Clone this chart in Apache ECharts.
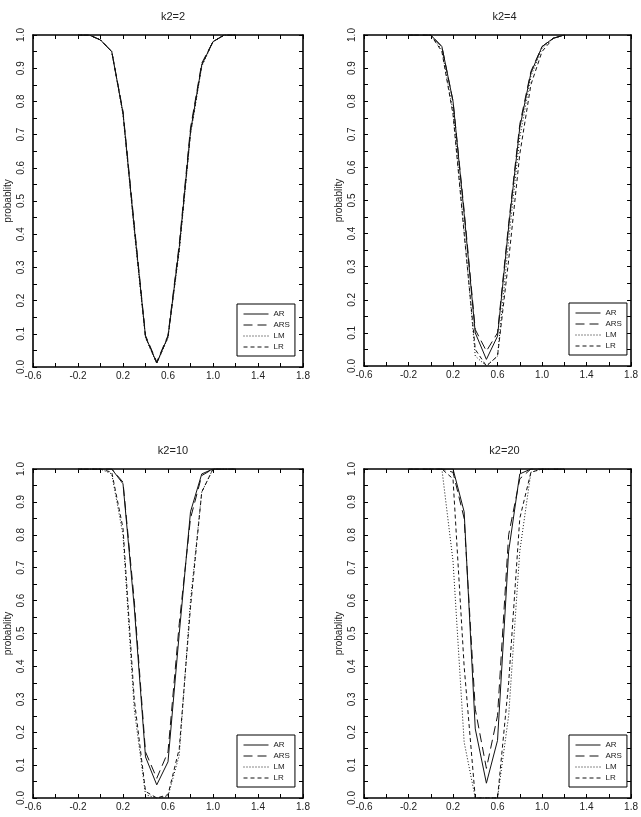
<!DOCTYPE html>
<html>
<head>
<meta charset="utf-8">
<script src="https://cdn.jsdelivr.net/npm/echarts@6/dist/echarts.min.js"></script>
<style>
	html, body { margin: 0; padding: 0; background: #fff; }
	#chart { width: 641px; height: 817px; }
</style>
</head>
<body>
<div id="chart"></div>
<script>
// Shared x grid of the simulation
var xs = [-0.2, -0.1, 0.0, 0.1, 0.2, 0.3, 0.4, 0.5, 0.6, 0.7, 0.8, 0.9, 1.0, 1.1, 1.2];

// k2=2
var ar2  = [1, 1, 0.985, 0.95, 0.765, 0.42, 0.092, 0.012, 0.092, 0.36, 0.71, 0.91, 0.98, 1, 1];
var ars2 = [1, 1, 0.985, 0.95, 0.77, 0.43, 0.095, 0.015, 0.095, 0.37, 0.72, 0.915, 0.98, 1, 1];
var lm2  = [1, 1, 0.985, 0.95, 0.76, 0.41, 0.088, 0.010, 0.088, 0.35, 0.70, 0.905, 0.98, 1, 1];
var lr2  = [1, 1, 0.985, 0.95, 0.765, 0.42, 0.09, 0.012, 0.09, 0.355, 0.705, 0.91, 0.98, 1, 1];

// k2=4
var ar4  = [1, 1, 1.0, 0.965, 0.80, 0.46, 0.10, 0.02, 0.09, 0.42, 0.72, 0.885, 0.965, 0.99, 1];
var ars4 = [1, 1, 1.0, 0.965, 0.80, 0.47, 0.11, 0.045, 0.10, 0.43, 0.73, 0.89, 0.965, 0.99, 1];
var lm4  = [1, 1, 1.0, 0.955, 0.77, 0.41, 0.03, 0.0, 0.03, 0.38, 0.69, 0.875, 0.96, 0.99, 1];
var lr4  = [1, 1, 1.0, 0.95, 0.76, 0.40, 0.05, 0.0, 0.03, 0.32, 0.64, 0.85, 0.95, 0.99, 1];

// k2=10
var ar10  = [1, 1, 1, 1.0, 0.955, 0.58, 0.125, 0.04, 0.11, 0.50, 0.87, 0.985, 1.0, 1, 1];
var ars10 = [1, 1, 1, 1.0, 0.96, 0.60, 0.14, 0.06, 0.14, 0.53, 0.85, 0.98, 1.0, 1, 1];
var lm10  = [1, 1, 1.0, 0.985, 0.80, 0.27, 0.01, 0.0, 0.005, 0.13, 0.60, 0.93, 1.0, 1, 1];
var lr10  = [1, 1, 1.0, 0.99, 0.82, 0.30, 0.02, 0.0, 0.01, 0.15, 0.58, 0.93, 1.0, 1, 1];

// k2=20
var ar20  = [1, 1, 1, 1, 1.0, 0.87, 0.21, 0.045, 0.175, 0.75, 0.985, 1.0, 1, 1, 1];
var ars20 = [1, 1, 1, 1, 0.99, 0.85, 0.27, 0.09, 0.25, 0.80, 0.97, 1.0, 1, 1, 1];
var lm20  = [1, 1, 1, 1.0, 0.72, 0.17, 0.0, 0.0, 0.0, 0.25, 0.75, 0.99, 1.0, 1, 1];
var lr20  = [1, 1, 1, 1.0, 0.97, 0.40, 0.0, 0.0, 0.0, 0.35, 0.85, 0.99, 1.0, 1, 1];

var titles = ['k2=2', 'k2=4', 'k2=10', 'k2=20'];
var seriesNames = ['AR', 'ARS', 'LM', 'LR'];
var panelData = [
	[ar2, ars2, lm2, lr2],
	[ar4, ars4, lm4, lr4],
	[ar10, ars10, lm10, lr10],
	[ar20, ars20, lm20, lr20]
];

// Layout of the four panels (pixels)
var boxes = [
	{ left: 33,  top: 35,  width: 270, height: 332 },
	{ left: 364, top: 35,  width: 271, height: 331 },
	{ left: 33,  top: 469, width: 270, height: 329 },
	{ left: 364, top: 469, width: 271, height: 329 }
];
var dashes = ['solid', [9, 5], [1, 2], [4, 3]];
var font = 'Liberation Sans';

function pairs(ys) {
	return xs.map(function (x, i) { return [x, ys[i]]; });
}

var option = {
	animation: false,
	backgroundColor: '#fff',
	title: [], grid: [], xAxis: [], yAxis: [], legend: [], series: []
};

boxes.forEach(function (b, p) {
	option.grid.push({ left: b.left, top: b.top, width: b.width, height: b.height, containLabel: false });

	option.title.push({
		text: titles[p],
		left: b.left + b.width / 2, top: b.top - 29, textAlign: 'center',
		textStyle: { fontFamily: font, fontSize: 11, fontWeight: 'normal', color: '#222' }
	});

	var frame = { show: true, onZero: false, lineStyle: { color: '#000', width: 1.6 } };
	var tick = { show: true, inside: true, length: 4, lineStyle: { color: '#000', width: 1 } };
	var minor = { show: true, splitNumber: 2, length: 4, lineStyle: { color: '#000', width: 1 } };

	// bottom and top x axes
	option.xAxis.push({
		gridIndex: p, type: 'value', position: 'bottom', min: -0.6, max: 1.8, interval: 0.2,
		axisLine: frame, axisTick: tick, splitLine: { show: false },
		axisLabel: {
			margin: 4, fontFamily: font, fontSize: 10, color: '#222', showMinLabel: true, showMaxLabel: true,
			formatter: function (v) {
				return Math.round((v + 0.6) / 0.2) % 2 === 0 ? v.toFixed(1) : '';
			}
		}
	});
	option.xAxis.push({
		gridIndex: p, type: 'value', position: 'top', min: -0.6, max: 1.8, interval: 0.2,
		axisLine: frame, axisTick: tick, axisLabel: { show: false }, splitLine: { show: false }
	});

	// left and right y axes
	option.yAxis.push({
		gridIndex: p, type: 'value', position: 'left', min: 0, max: 1, interval: 0.1,
		axisLine: frame, axisTick: tick, minorTick: minor, splitLine: { show: false },
		axisLabel: {
			rotate: 90, margin: 7, fontFamily: font, fontSize: 10, color: '#222',
			formatter: function (v) { return v.toFixed(1); }
		},
		name: 'probablity', nameLocation: 'middle', nameGap: 20, nameRotate: 90,
		nameTextStyle: { fontFamily: font, fontSize: 10, color: '#222' }
	});
	option.yAxis.push({
		gridIndex: p, type: 'value', position: 'right', min: 0, max: 1, interval: 0.1,
		axisLine: frame, axisTick: tick, minorTick: minor,
		axisLabel: { show: false }, splitLine: { show: false }
	});

	// legend box in the lower right corner
	option.legend.push({
		data: seriesNames, orient: 'vertical', selectedMode: false,
		left: b.left + b.width - 66, top: b.top + b.height - 63,
		itemWidth: 25, itemHeight: 8, itemGap: 3,
		padding: [6, 5, 5, 6], borderColor: '#000', borderWidth: 1,
		itemStyle: { opacity: 0 },
		lineStyle: { width: 1, color: '#111' },
		textStyle: { fontFamily: font, fontSize: 8, color: '#222' }
	});

	panelData[p].forEach(function (ys, s) {
		option.series.push({
			name: seriesNames[s], type: 'line', symbol: 'none', silent: true,
			xAxisIndex: 2 * p, yAxisIndex: 2 * p,
			data: pairs(ys),
			itemStyle: { color: '#111' },
			lineStyle: { color: '#111', width: 1, type: dashes[s] },
			z: 3 - s
		});
	});
});

var chart = echarts.init(document.getElementById('chart'), null, { renderer: 'canvas' });
chart.setOption(option);
</script>
</body>
</html>
